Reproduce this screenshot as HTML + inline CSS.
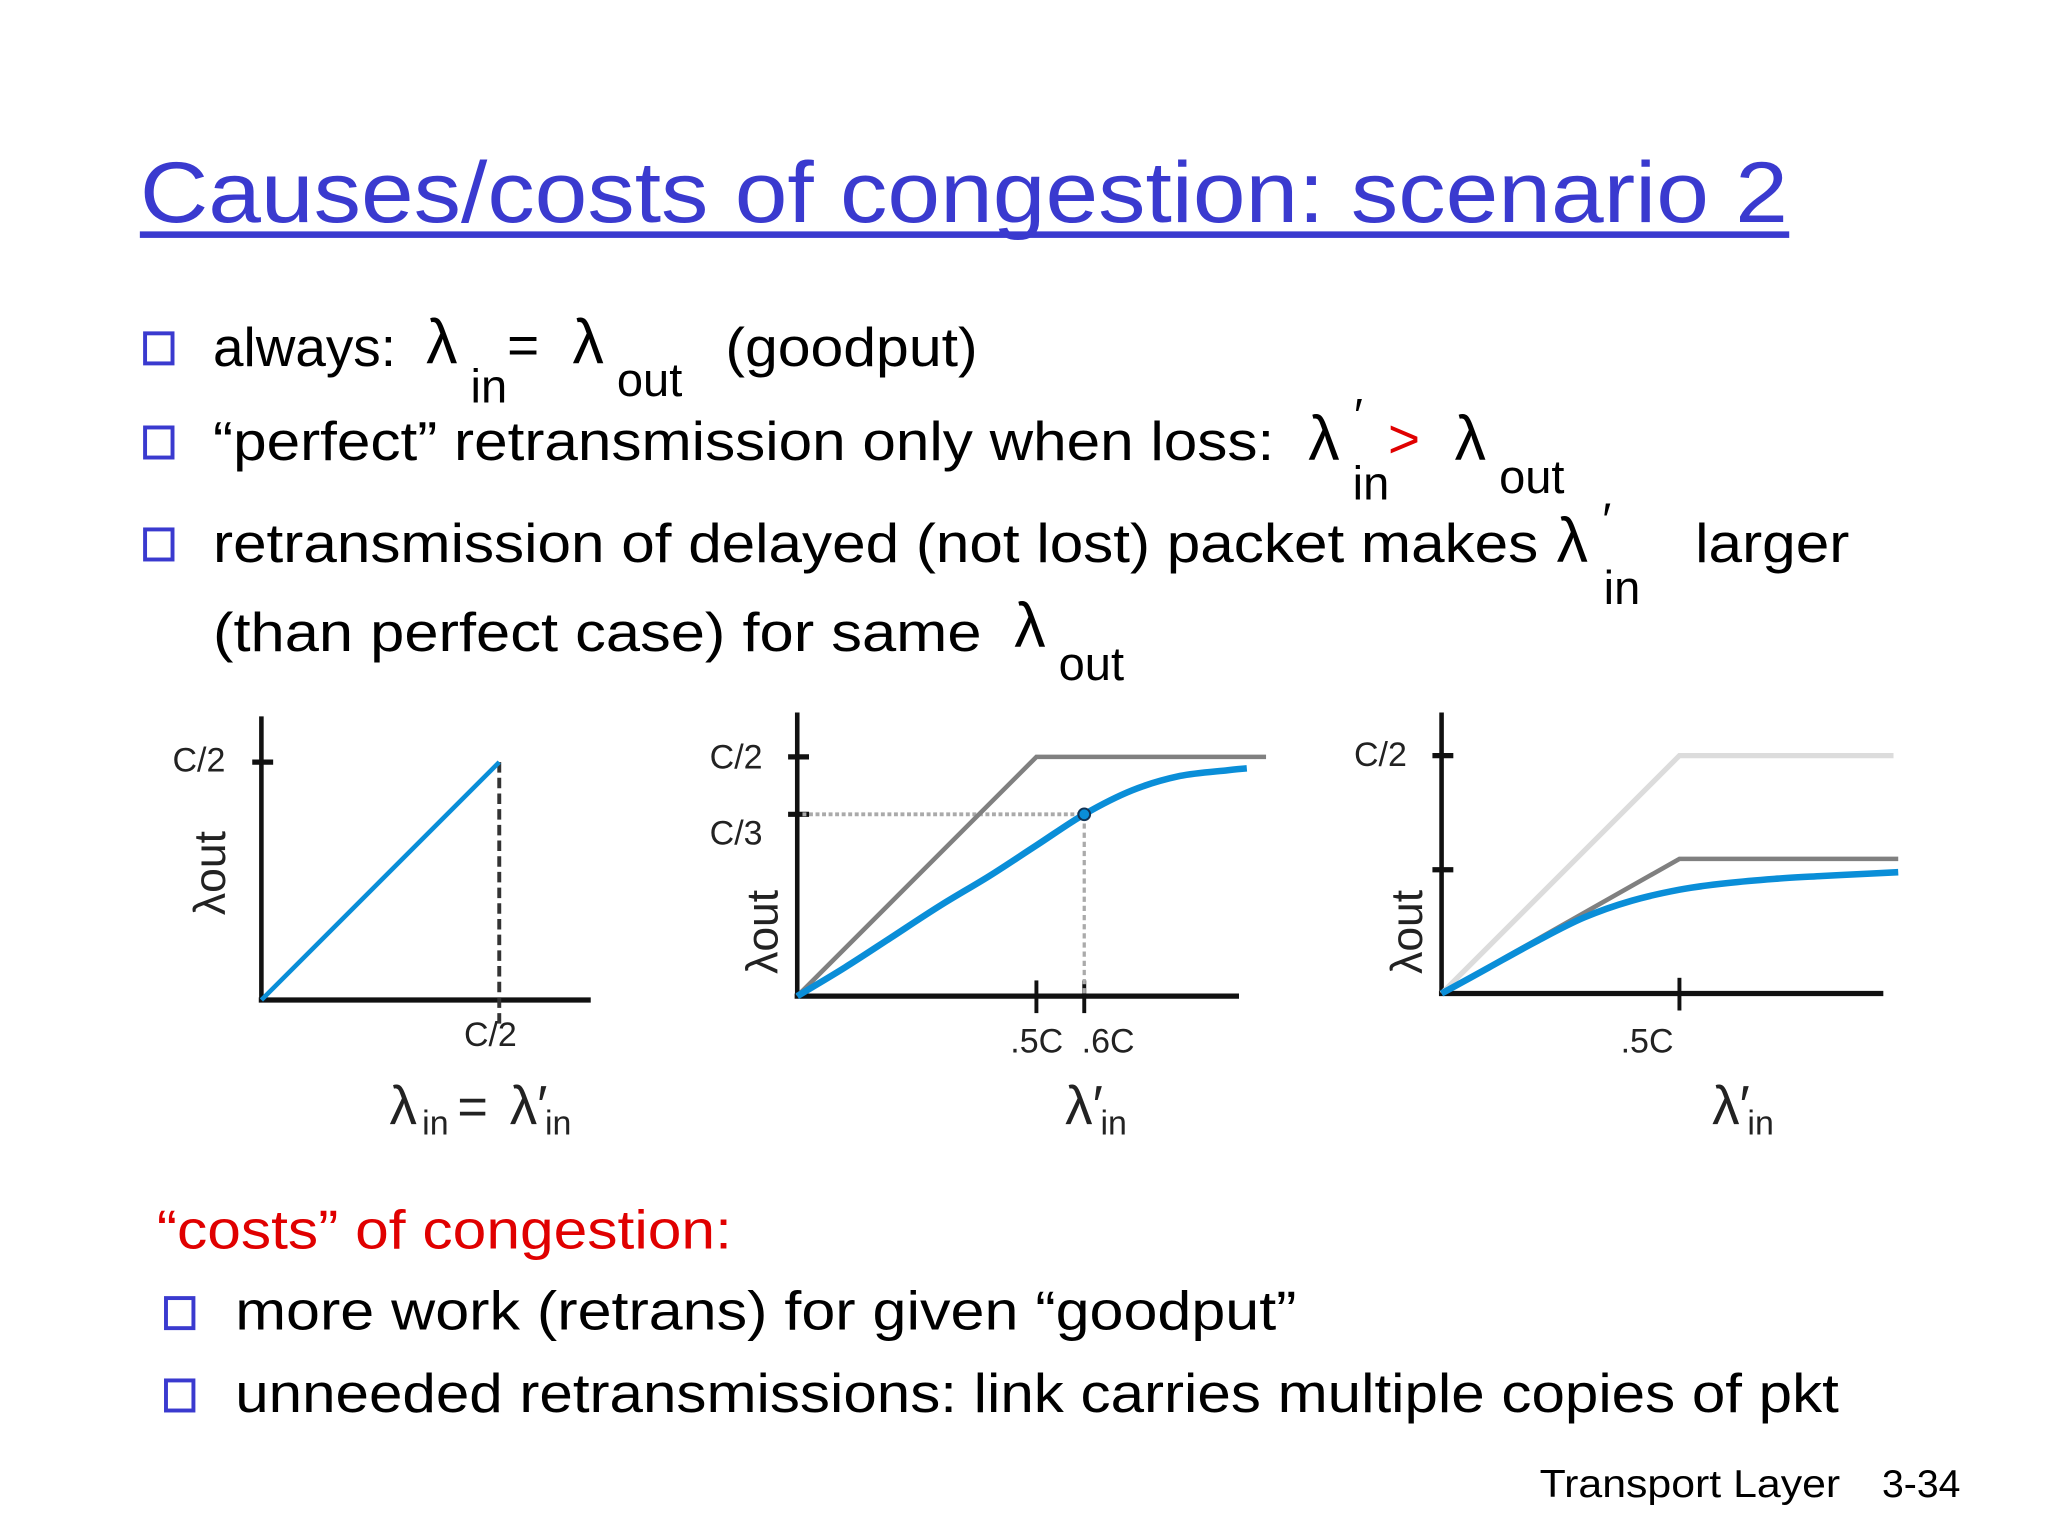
<!DOCTYPE html>
<html><head><meta charset="utf-8"><style>
html,body{margin:0;padding:0;background:#fff;}
svg{display:block;}
text{font-family:"Liberation Sans",sans-serif;}
</style></head><body>
<svg width="2048" height="1536" viewBox="0 0 1567 1175" preserveAspectRatio="none" xmlns="http://www.w3.org/2000/svg">
<g>
<text x="107" y="170" font-size="66" fill="#3a3acf" textLength="1261" lengthAdjust="spacingAndGlyphs">Causes/costs of congestion: scenario 2</text>
<rect x="107" y="177" width="1262" height="5" fill="#3a3acf"/>
</g>
<g font-size="42" fill="#000">
<rect x="111" y="255" width="21" height="23" fill="none" stroke="#3a3acf" stroke-width="3"/>
<text x="163" y="280" textLength="140" lengthAdjust="spacingAndGlyphs">always:</text>
<text x="326" y="278" font-size="48">λ</text><text x="360" y="308" font-size="36">in</text>
<text x="388" y="278">=</text>
<text x="438" y="278" font-size="48">λ</text><text x="472" y="303" font-size="36">out</text>
<text x="555" y="280" textLength="193" lengthAdjust="spacingAndGlyphs">(goodput)</text>

<rect x="111" y="327" width="21" height="23" fill="none" stroke="#3a3acf" stroke-width="3"/>
<text x="163" y="352" textLength="812" lengthAdjust="spacingAndGlyphs">“perfect” retransmission only when loss:</text>
<text x="1001" y="352" font-size="48">λ</text><text x="1036" y="330" font-size="36">′</text><text x="1035" y="382" font-size="36">in</text>
<text x="1062" y="350" fill="#e00000">&gt;</text>
<text x="1113" y="352" font-size="48">λ</text><text x="1147" y="377" font-size="36">out</text>

<rect x="111" y="405" width="21" height="23" fill="none" stroke="#3a3acf" stroke-width="3"/>
<text x="163" y="430" textLength="1014" lengthAdjust="spacingAndGlyphs">retransmission of delayed (not lost) packet makes</text>
<text x="1191" y="430" font-size="48">λ</text><text x="1226" y="410" font-size="36">′</text><text x="1227" y="462" font-size="36">in</text>
<text x="1297" y="430" textLength="118" lengthAdjust="spacingAndGlyphs">larger</text>
<text x="163" y="498" textLength="588" lengthAdjust="spacingAndGlyphs">(than perfect case) for same</text>
<text x="776" y="495" font-size="48">λ</text><text x="810" y="520" font-size="36">out</text>
</g>

<g id="charts"></g>

<g font-size="42">
<text x="120" y="955" fill="#e00000" textLength="440" lengthAdjust="spacingAndGlyphs">“costs” of congestion:</text>
<rect x="127" y="993" width="21" height="23" fill="none" stroke="#3a3acf" stroke-width="3"/>
<text x="180" y="1017" textLength="812" lengthAdjust="spacingAndGlyphs">more work (retrans) for given “goodput”</text>
<rect x="127" y="1056" width="21" height="23" fill="none" stroke="#3a3acf" stroke-width="3"/>
<text x="180" y="1080" textLength="1227" lengthAdjust="spacingAndGlyphs">unneeded retransmissions: link carries multiple copies of pkt</text>
</g>
<g font-size="30">
<text x="1178" y="1145" textLength="230" lengthAdjust="spacingAndGlyphs">Transport Layer</text>
<text x="1440" y="1145" textLength="60" lengthAdjust="spacingAndGlyphs">3-34</text>
</g>
</svg>
<script>
// Chart 1 data (units of C)
const c1Blue=[[0,0],[0.5,0.5]];
// Chart 2 data
const c2Gray=[[0,0],[0.5,0.5],[0.98,0.5]];
const c2Blue=[[0,0],[0.1,0.06],[0.2,0.125],[0.3,0.19],[0.4,0.25],[0.5,0.315],[0.6,0.38],[0.7,0.43],[0.8,0.46],[0.9,0.472],[0.94,0.476]];
const c2Mark=[0.6,0.38];
const c2XTicks=[0.5,0.6];
const c2XLabels=[".5C",".6C"];
// Chart 3 data
const c3Light=[[0,0],[0.5,0.5],[0.95,0.5]];
const c3Gray=[[0,0],[0.5,0.283],[0.96,0.283]];
const c3Blue=[[0,0],[0.1,0.055],[0.2,0.11],[0.3,0.16],[0.4,0.195],[0.5,0.218],[0.6,0.232],[0.7,0.241],[0.8,0.247],[0.9,0.252],[0.96,0.255]];
const c3YTicks=[0.5,0.26];

const NS="http://www.w3.org/2000/svg";
const root=document.getElementById('charts');
function mk(tag,attrs,parent){const e=document.createElementNS(NS,tag);for(const k in attrs)e.setAttribute(k,attrs[k]);(parent||root).appendChild(e);return e;}
function axes(x0,y0,k){return {X:v=>x0+v*k,Y:v=>y0-v*k};}
function path(pts,a){return pts.map((p,i)=>(i?'L':'M')+a.X(p[0]).toFixed(1)+' '+a.Y(p[1]).toFixed(1)).join(' ');}
function smooth(pts,a){const P=pts.map(p=>[a.X(p[0]),a.Y(p[1])]);let d='M'+P[0][0]+' '+P[0][1];
for(let i=0;i<P.length-1;i++){const p0=P[i-1]||P[i],p1=P[i],p2=P[i+1],p3=P[i+2]||p2;
d+=' C'+(p1[0]+(p2[0]-p0[0])/6).toFixed(1)+' '+(p1[1]+(p2[1]-p0[1])/6).toFixed(1)+' '+(p2[0]-(p3[0]-p1[0])/6).toFixed(1)+' '+(p2[1]-(p3[1]-p1[1])/6).toFixed(1)+' '+p2[0].toFixed(1)+' '+p2[1].toFixed(1);}
return d;}
function txt(x,y,s,size,extra){const t=mk('text',Object.assign({x:x,y:y,'font-size':size,fill:'#222'},extra||{}));t.textContent=s;return t;}

// chart 1
let g=mk('g',{});
let a=axes(200,765,364);
let e;
e=mk('line',{x1:200,y1:548,x2:200,y2:765,stroke:'#111','stroke-width':3.5},g);
e=mk('line',{x1:198,y1:765,x2:452,y2:765,stroke:'#111','stroke-width':4},g);
mk('line',{x1:193,y1:a.Y(0.5),x2:209,y2:a.Y(0.5),stroke:'#111','stroke-width':4},g);
e=mk('line',{x1:a.X(0.5),y1:a.Y(0.5),x2:a.X(0.5),y2:785,stroke:'#333','stroke-width':3,'stroke-dasharray':'8 4'},g);
e=mk('path',{d:path(c1Blue,a),stroke:'#0a8ed8','stroke-width':3.5,fill:'none'},g);
g.appendChild(txt(132,590,'C/2',26));g.appendChild(txt(355,800,'C/2',26));
g.appendChild(txt(0,0,'λout',34,{transform:'translate(172,700) rotate(-90)'}));
g.appendChild(txt(298,860,'λ',42));g.appendChild(txt(323,868,'in',26));g.appendChild(txt(350,860,'=',40));g.appendChild(txt(390,860,'λ′',42));g.appendChild(txt(417,868,'in',26));

// chart 2
g=mk('g',{});
a=axes(610,762,366);
e=mk('line',{x1:610,y1:545,x2:610,y2:762,stroke:'#111','stroke-width':3.5},g);
e=mk('line',{x1:608,y1:762,x2:948,y2:762,stroke:'#111','stroke-width':4},g);
mk('line',{x1:603,y1:a.Y(0.5),x2:619,y2:a.Y(0.5),stroke:'#111','stroke-width':4},g);
mk('line',{x1:603,y1:a.Y(c2Mark[1]),x2:619,y2:a.Y(c2Mark[1]),stroke:'#111','stroke-width':4},g);
c2XTicks.forEach((v,i)=>{mk('line',{x1:a.X(v),y1:750,x2:a.X(v),y2:775,stroke:'#111','stroke-width':3},g);g.appendChild(txt(a.X(v)-(i?2:20),805,c2XLabels[i],26));});
mk('line',{x1:614,y1:a.Y(c2Mark[1]),x2:a.X(c2Mark[0]),y2:a.Y(c2Mark[1]),stroke:'#aaa','stroke-width':3,'stroke-dasharray':'3 2'},g);
mk('line',{x1:a.X(c2Mark[0]),y1:a.Y(c2Mark[1]),x2:a.X(c2Mark[0]),y2:762,stroke:'#aaa','stroke-width':2.5,'stroke-dasharray':'4 3'},g);
e=mk('path',{d:path(c2Gray,a),stroke:'#808080','stroke-width':3.5,fill:'none'},g);
e=mk('path',{d:smooth(c2Blue,a),stroke:'#0a8ed8','stroke-width':5,fill:'none'},g);
mk('circle',{cx:a.X(c2Mark[0]),cy:a.Y(c2Mark[1]),r:4.5,fill:'#0a8ed8',stroke:'#135','stroke-width':1.5},g);
g.appendChild(txt(543,588,'C/2',26));g.appendChild(txt(543,646,'C/3',26));
g.appendChild(txt(0,0,'λout',34,{transform:'translate(595,745) rotate(-90)'}));
g.appendChild(txt(815,860,'λ′',42));g.appendChild(txt(842,868,'in',26));

// chart 3
g=mk('g',{});
a=axes(1103,760,364);
e=mk('line',{x1:1103,y1:545,x2:1103,y2:760,stroke:'#111','stroke-width':3.5},g);
e=mk('line',{x1:1101,y1:760,x2:1441,y2:760,stroke:'#111','stroke-width':4},g);
c3YTicks.forEach(v=>mk('line',{x1:1096,y1:a.Y(v),x2:1112,y2:a.Y(v),stroke:'#111','stroke-width':4},g));
mk('line',{x1:a.X(0.5),y1:748,x2:a.X(0.5),y2:773,stroke:'#111','stroke-width':3},g);
e=mk('path',{d:path(c3Light,a),stroke:'#dcdcdc','stroke-width':4,fill:'none'},g);
e=mk('path',{d:path(c3Gray,a),stroke:'#808080','stroke-width':3.5,fill:'none'},g);
e=mk('path',{d:smooth(c3Blue,a),stroke:'#0a8ed8','stroke-width':5,fill:'none'},g);
g.appendChild(txt(1036,586,'C/2',26));g.appendChild(txt(1240,805,'.5C',26));
g.appendChild(txt(0,0,'λout',34,{transform:'translate(1088,745) rotate(-90)'}));
g.appendChild(txt(1310,860,'λ′',42));g.appendChild(txt(1337,868,'in',26));
</script>
</body></html>
